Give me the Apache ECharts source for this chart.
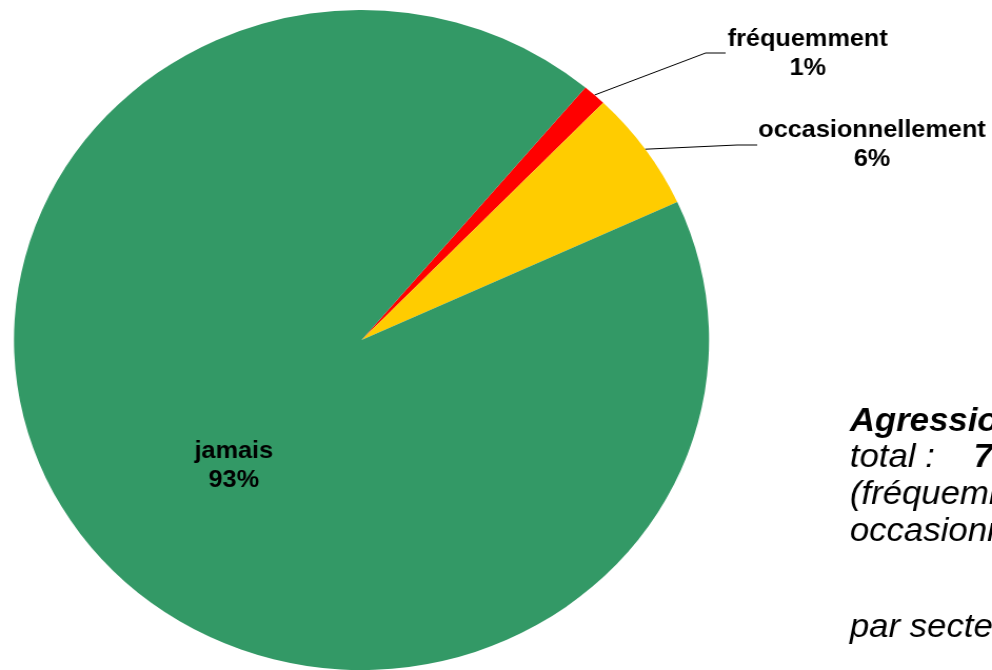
<!DOCTYPE html>
<html><head><meta charset="utf-8">
<script src="https://cdn.jsdelivr.net/npm/echarts@6/dist/echarts.min.js"></script>
<style>
html,body{margin:0;padding:0;background:#fff;overflow:hidden;width:992px;height:670px}
#c{width:942px;height:670px;transform:scaleX(1.0531);transform-origin:0 0;}
</style></head><body><div id="c"></div>
<script>
const categories = ['fréquemment', 'occasionnellement', 'jamais'];
const values = [1.1, 5.9, 93.0];
const colors = ['#FF0000', '#FFCC00', '#339966'];
const noteLines = ['Agressions', 'total :    ', '7%', '(fréquemment +', 'occasionnellement)', 'par secteur'];

const FONT = '"Liberation Sans", Arial, Helvetica, sans-serif';
const chart = echarts.init(document.getElementById('c'), null, {renderer: 'canvas'});

const labelSpots = [
  {x: 767, y: 54, bend: [670, 53], end: [689, 53]},
  {x: 828, y: 145, bend: [700, 145], end: [719, 145]},
  {x: 222, y: 466}
];

const data = categories.map((name, i) => ({
  name: name,
  value: values[i],
  itemStyle: {color: colors[i]},
  label: i === 2 ? {position: 'inside'} : {position: 'outside'},
  labelLine: {show: i !== 2}
}));

chart.setOption({
  animation: false,
  backgroundColor: '#ffffff',
  series: [{
    type: 'pie',
    center: [343.3, 340],
    radius: 330,
    startAngle: 49.9,
    clockwise: true,
    avoidLabelOverlap: false,
    minShowLabelAngle: 0,
    emphasis: {disabled: true},
    itemStyle: {borderWidth: 0},
    label: {
      show: true,
      color: '#000',
      fontFamily: FONT,
      fontWeight: 'bold',
      fontSize: 24,
      lineHeight: 29,
      align: 'center',
      formatter: p => p.name + '\n' + Math.round(p.percent) + '%'
    },
    labelLine: {show: true, lineStyle: {color: '#000', width: 1}},
    labelLayout: function (params) {
      const s = labelSpots[params.dataIndex];
      const out = {x: s.x, y: s.y, align: 'center', verticalAlign: 'middle'};
      if (s.bend && params.labelLinePoints) {
        out.labelLinePoints = [params.labelLinePoints[0], s.bend, s.end];
      }
      return out;
    },
    data: data
  }],
  graphic: [
    {type: 'text', left: 807, top: 405, style: {text: noteLines[0], font: 'italic bold 33px ' + FONT, fill: '#000'}},
    {type: 'text', left: 807, top: 441, style: {
      text: '{n|' + noteLines[1] + '}{b|' + noteLines[2] + '}',
      fill: '#000',
      rich: {
        n: {fontFamily: FONT, fontSize: 33, fontStyle: 'italic', fontWeight: 'normal', fill: '#000'},
        b: {fontFamily: FONT, fontSize: 33, fontStyle: 'italic', fontWeight: 'bold', fill: '#000'}
      }
    }},
    {type: 'text', left: 807, top: 478, style: {text: noteLines[3], font: 'italic 33px ' + FONT, fill: '#000'}},
    {type: 'text', left: 807, top: 515, style: {text: noteLines[4], font: 'italic 33px ' + FONT, fill: '#000'}},
    {type: 'text', left: 807, top: 611, style: {text: noteLines[5], font: 'italic 33px ' + FONT, fill: '#000'}}
  ]
});
</script></body></html>
